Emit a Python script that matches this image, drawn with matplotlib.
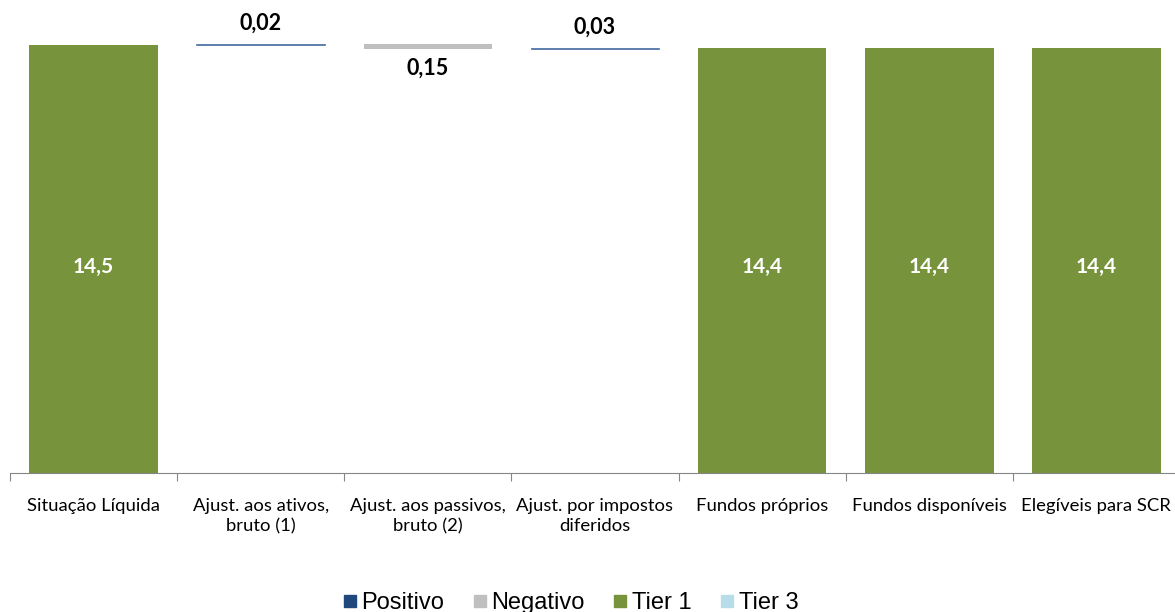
import matplotlib.pyplot as plt
from matplotlib.lines import Line2D

categories = ["Situação Líquida", "Ajust. aos ativos,\nbruto (1)", "Ajust. aos passivos,\nbruto (2)",
              "Ajust. por impostos\ndiferidos", "Fundos próprios", "Fundos disponíveis", "Elegíveis para SCR"]
start = 14.5
deltas = [0.02, -0.15, 0.03]
totals = [14.4, 14.4, 14.4]
delta_labels = ["0,02", "0,15", "0,03"]
total_labels = ["14,5", "14,4", "14,4", "14,4"]

green = "#77933C"
pos_col = "#1F497D"
pos_edge = "#4F71A8"
neg_col = "#BFBFBF"
tier3 = "#B7DEE8"

fig = plt.figure(figsize=(11.75, 6.12), dpi=100)
ax = fig.add_axes([10 / 1175, 1 - 473 / 612, 1170 / 1175, 473 / 612])
x = list(range(len(categories)))
w = 0.77

# totals
tot_x = [0, 4, 5, 6]
tot_v = [start] + totals
ax.bar(tot_x, tot_v, width=w, color=green, zorder=2)
for xi, v, lab in zip(tot_x, tot_v, total_labels):
    ax.text(xi, 7.05, lab, ha="center", va="center_baseline", color="white",
            fontsize=15, fontweight="bold", family="Lato")

# floating adjustments
level = start
for i, d in enumerate(deltas):
    xi = i + 1
    if d >= 0:
        ax.bar(xi, d, bottom=level, width=w, color=pos_col, edgecolor=pos_edge, linewidth=0.5, zorder=2)
        ax.text(xi, level + d + 0.35, delta_labels[i], ha="center", va="bottom",
                fontsize=15.5, fontweight="bold", family="Lato")
    else:
        ax.bar(xi, -d, bottom=level + d, width=w, color=neg_col, zorder=2)
        ax.text(xi, level + d - 0.3, delta_labels[i], ha="center", va="top",
                fontsize=15.5, fontweight="bold", family="Lato")
    level += d

ax.set_xlim(-0.5, len(categories) - 0.5)
ax.set_ylim(0, start * 473 / 428)
ax.set_yticks([])
ax.set_xticks([i - 0.5 for i in range(len(categories) + 1)], minor=False)
ax.set_xticklabels([])
ax.tick_params(axis="x", length=6, color="#868686")
ax.set_xticks(x, minor=True)
ax.set_xticklabels(categories, minor=True, fontsize=13.3, family="Lato", linespacing=1.3)
ax.tick_params(axis="x", which="minor", length=0, pad=18)
for s in ["top", "right", "left"]:
    ax.spines[s].set_visible(False)
ax.spines["bottom"].set_color("#868686")

handles = [Line2D([], [], marker="s", ls="", color=c, markersize=9)
           for c in [pos_col, neg_col, green, tier3]]
fig.legend(handles, ["Positivo", "Negativo", "Tier 1", "Tier 3"], ncol=4, frameon=False,
           loc="center", bbox_to_anchor=(570 / 1175, 1 - 603 / 612),
           prop={"family": "Liberation Sans", "size": 17},
           handletextpad=0.15, columnspacing=1.15, handlelength=0.7)

fig.savefig("out.png", dpi=100)
